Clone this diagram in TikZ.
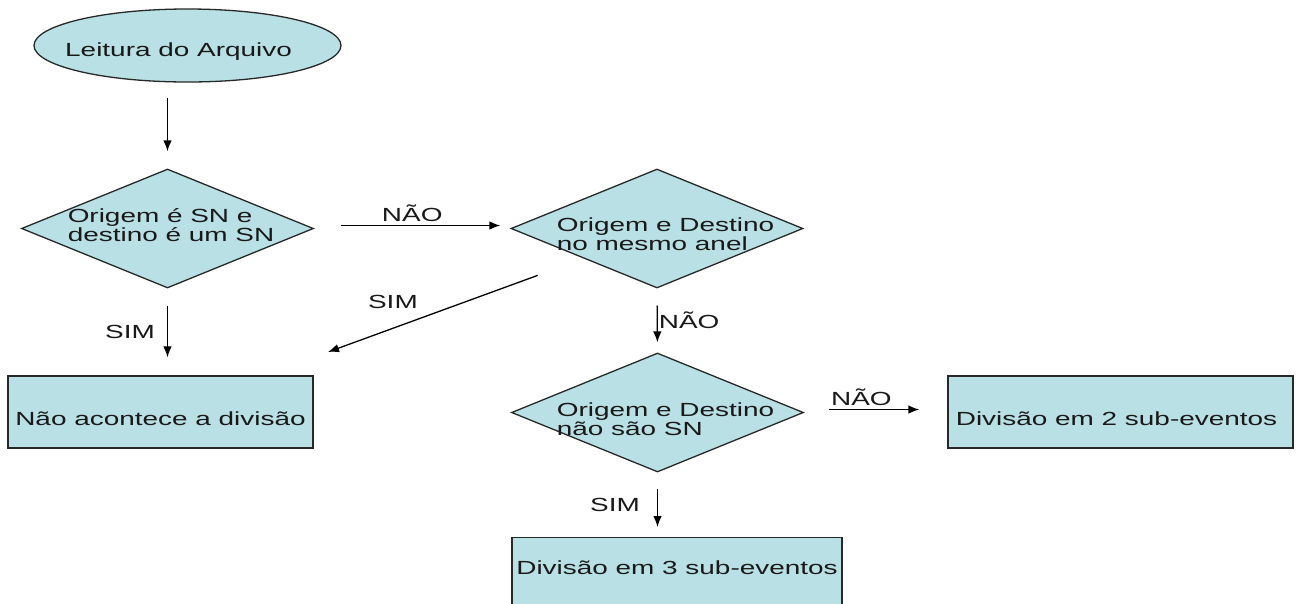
\documentclass[tikz,border=0pt]{standalone}
\usepackage{fontspec}
\setmainfont{Liberation Sans}[FakeStretch=1.47]
\usepackage{tikz}
\usetikzlibrary{shapes.geometric,arrows.meta,positioning}

\definecolor{boxfill}{RGB}{185,224,228}
\definecolor{edgegray}{RGB}{40,40,40}

\begin{document}
\begin{tikzpicture}[x=1pt,y=-1pt,
  font=\fontsize{19}{19}\selectfont,
  every node/.style={text=black!90},
  startnode/.style={ellipse,draw=edgegray,fill=boxfill,line width=1.3pt,
    minimum width=307pt,minimum height=73pt,inner sep=0pt},
  decision/.style={diamond,draw=edgegray,fill=boxfill,line width=1.3pt,
    minimum width=292pt,minimum height=119pt,inner sep=0pt},
  dtext/.style={align=left,inner sep=0pt},
  flowbox/.style={rectangle,draw=edgegray,fill=boxfill,line width=1.3pt,
    minimum height=72pt,inner sep=0pt,text height=26pt,text depth=0pt},
  arr/.style={-{Latex[length=11pt,width=8.5pt]},line width=1.3pt},
  lbl/.style={inner sep=3pt}]

\useasboundingbox (0,0) rectangle (1300,603);

% start
\node[startnode] (leitura) at (187.5,45.5) {};
\node[inner sep=0pt,anchor=base west] (leituratxt) at (65,56) {Leitura do Arquivo};

% tests
\node[decision] (dec1) at (167.5,228.5) {};
\node[dtext] (dec1txt) at (171,225.25) {Origem é SN e\\destino é um SN};

\node[decision] (dec2) at (657,228.5) {};
\node[dtext] (dec2txt) at (665.5,234.5) {Origem e Destino\\no mesmo anel};

\node[decision] (dec3) at (657.5,412.5) {};
\node[dtext] (dec3txt) at (665.5,419) {Origem e Destino\\não são SN};

% results
\node[flowbox,minimum width=305pt] (box1) at (160.5,412) {Não acontece a divisão};
\node[flowbox,minimum width=345pt] (box2) at (1120.5,412) {\hspace*{-8pt}Divisão em 2 sub-eventos};
\node[flowbox,minimum width=330pt,anchor=north,text height=2pt] (box3) at (677,537) {Divisão em 3 sub-eventos};

% -------- connectors --------

% start -> first test
\draw[arr,shorten <=15pt,shorten >=17pt] (leitura.south -| dec1.north) -- (dec1.north);

% first test
\draw[arr,shorten <=27pt,shorten >=10pt] ([yshift=3pt]dec1.east) -- node[lbl,above] (nao1) {NÃO} ([yshift=3pt]dec2.west);
\draw[arr,shorten <=17pt,shorten >=18pt] (dec1.south) -- node[lbl,left=9pt] (sim1) {SIM} (dec1.south |- box1.north);

% same ring test
\coordinate (simend) at (328,352);
\draw[arr,shorten <=49pt] (dec2.south west) -- node[lbl,pos=.746,above=16pt] (sim2) {SIM} (simend);
\draw[arr,shorten <=17pt,shorten >=10pt] (dec2.south) -- node[lbl,right,inner sep=1pt] (nao2) {NÃO} (dec3.north);

% SN test
\draw[arr,shorten <=25pt,shorten >=28pt] ([yshift=3pt]dec3.east) -- node[lbl,above,pos=.4] (nao3) {NÃO} ([yshift=3pt]dec3.east -| box2.west);
\draw[arr,shorten <=16pt,shorten >=10pt] (dec3.south) -- node[lbl,left=14pt] (sim3) {SIM} (dec3.south |- box3.north);

\end{tikzpicture}
\end{document}
